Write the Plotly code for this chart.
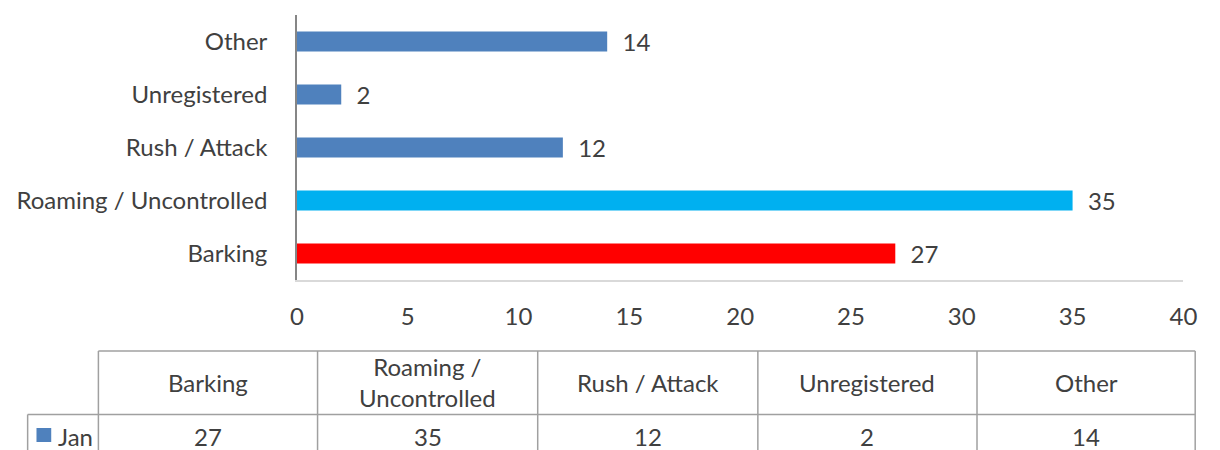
import plotly.graph_objects as go

# ---- data ----
categories = ["Barking", "Roaming / Uncontrolled", "Rush / Attack", "Unregistered", "Other"]
values = [27, 35, 12, 2, 14]
bar_colors = ["#FF0000", "#00B0F0", "#4F81BD", "#4F81BD", "#4F81BD"]
series_name = "Jan"
table_headers = ["Barking", "Roaming /<br>Uncontrolled", "Rush / Attack", "Unregistered", "Other"]
x_ticks = [0, 5, 10, 15, 20, 25, 30, 35, 40]

W, H = 1220, 450
FONT = "Lato"
FS = 24
TXT = "#404040"

def px(x):
    return x / W

def py(y):
    return 1 - y / H

fig = go.Figure()
fig.add_trace(go.Bar(
    y=categories, x=values, orientation="h",
    marker=dict(color=bar_colors, line=dict(width=0)),
    width=0.38,
    text=values, texttemplate="\u00a0\u00a0%{x}", textposition="outside",
    cliponaxis=False, constraintext="none",
    textfont=dict(family=FONT, size=FS, color=TXT),
    outsidetextfont=dict(family=FONT, size=FS, color=TXT),
    showlegend=False,
))

shapes = []
annotations = []
LINE = "#A0A0A0"
col_edges = [93, 316, 540, 764, 987, 1209]
y_top, y_mid, y_bot = 351, 414.5, 452
row_left = 21
shapes.append(dict(type="line", xref="paper", yref="paper", x0=px(col_edges[0]), x1=px(col_edges[-1]), y0=py(y_top), y1=py(y_top), line=dict(color=LINE, width=1.5)))
shapes.append(dict(type="line", xref="paper", yref="paper", x0=px(row_left), x1=px(col_edges[-1]), y0=py(y_mid), y1=py(y_mid), line=dict(color=LINE, width=1.5)))
for e in col_edges:
    shapes.append(dict(type="line", xref="paper", yref="paper", x0=px(e), x1=px(e), y0=py(y_top), y1=py(y_bot), line=dict(color=LINE, width=1.5)))
shapes.append(dict(type="line", xref="paper", yref="paper", x0=px(row_left), x1=px(row_left), y0=py(y_mid), y1=py(y_bot), line=dict(color=LINE, width=1.5)))
shapes.append(dict(type="rect", xref="paper", yref="paper", x0=px(30), x1=px(45), y0=py(442), y1=py(428), fillcolor="#4F81BD", line=dict(width=0)))

for i, (h, v) in enumerate(zip(table_headers, values)):
    cx = (col_edges[i] + col_edges[i + 1]) / 2
    annotations.append(dict(xref="paper", yref="paper", x=px(cx), y=py(382), text=h, showarrow=False,
                            font=dict(family=FONT, size=FS, color=TXT), xanchor="center", yanchor="middle"))
    annotations.append(dict(xref="paper", yref="paper", x=px(cx), y=py(436), text=str(v), showarrow=False,
                            font=dict(family=FONT, size=FS, color=TXT), xanchor="center", yanchor="middle"))
annotations.append(dict(xref="paper", yref="paper", x=px(50), y=py(436), text=series_name, showarrow=False,
                        font=dict(family=FONT, size=FS, color=TXT), xanchor="left", yanchor="middle"))

fig.update_layout(
    width=W, height=H, autosize=False,
    margin=dict(l=0, r=0, t=0, b=0, pad=0),
    paper_bgcolor="white", plot_bgcolor="white",
    font=dict(family=FONT, size=FS, color=TXT),
    xaxis=dict(domain=[px(295), px(1197)], range=[0, 40], tickvals=x_ticks, showgrid=False,
               zeroline=False, showline=True, linecolor="#D9D9D9", linewidth=1.5,
               ticks="", ticklabelstandoff=14, tickfont=dict(family=FONT, size=FS, color=TXT)),
    yaxis=dict(domain=[py(280), py(15)], categoryorder="array", categoryarray=categories,
               showgrid=False, zeroline=False, showline=True, linecolor="#868686", linewidth=1.5,
               ticks="", ticklabelstandoff=23, tickfont=dict(family=FONT, size=FS, color=TXT)),
    shapes=shapes, annotations=annotations,
)

fig.write_html(
    "out.html",
    config={"displayModeBar": False, "responsive": False},
    default_width="1220px", default_height="450px",
    post_script=("document.body.style.margin='0';document.body.style.padding='0';"
                 "document.body.style.overflow='hidden';document.documentElement.style.overflow='hidden';"),
)
